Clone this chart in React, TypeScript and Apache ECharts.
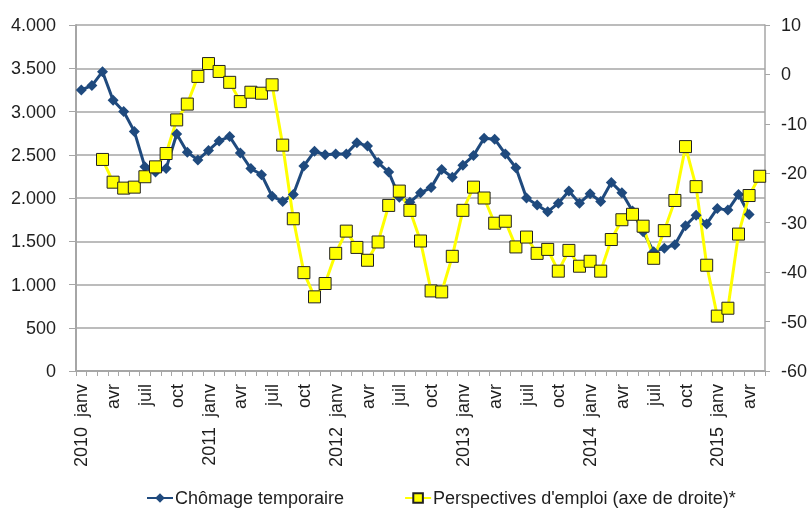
import React, { useEffect, useRef } from "react";
import * as echarts from "echarts";

const years = [2010, 2011, 2012, 2013, 2014, 2015];
const monthNames = ["janv", "févr", "mars", "avr", "mai", "juin", "juil", "août", "sept", "oct", "nov", "déc"];
const lastYearMonths = 5; // 2015: janv..mai

const categories: string[] = [];
years.forEach((y, yi) => {
  const n = yi === years.length - 1 ? lastYearMonths : 12;
  for (let m = 0; m < n; m++) categories.push(`${y} ${monthNames[m]}`);
});

const chomageTemporaire: (number | null)[] = [
  3250, 3300, 3460, 3130, 3000, 2770, 2360, 2300, 2340, 2740,
  2530, 2440, 2550, 2660, 2710, 2520, 2340, 2270, 2020, 1960,
  2040, 2370, 2540, 2500, 2510, 2510, 2640, 2600, 2410, 2300,
  2010, 1950, 2060, 2120, 2330, 2240, 2380, 2490, 2690, 2680,
  2510, 2350, 2000, 1920, 1840, 1940, 2080, 1940, 2050, 1960,
  2180, 2060, 1850, 1610, 1380, 1420, 1460, 1680, 1800, 1700,
  1880, 1860, 2040, 1810, null,
];

const perspectivesEmploi: (number | null)[] = [
  null, null,
  -17.2, -21.8, -23.0, -22.8, -20.7, -18.7, -16.0, -9.2, -6.0, -0.4,
  2.2, 0.6, -1.6, -5.5, -3.6, -3.8, -2.1, -14.3, -29.2, -40.1,
  -45.0, -42.3, -36.2, -31.7, -35.0, -37.6, -33.9, -26.5, -23.6, -27.5,
  -33.7, -43.8, -44.0, -36.8, -27.5, -22.8, -25.0, -30.1, -29.7, -34.9,
  -32.9, -36.2, -35.4, -39.8, -35.6, -38.8, -37.8, -39.8, -33.4, -29.4,
  -28.3, -30.7, -37.2, -31.6, -25.5, -14.6, -22.7, -38.6, -48.9, -47.3,
  -32.3, -24.5, -20.6,
];

const FONT = "'Liberation Sans', Arial, sans-serif";
const FS = 18;
const TEXT = "#1e1e1e";
const GRID = "#a6a6a6";

export default function App() {
  const ref = useRef<HTMLDivElement>(null);
  useEffect(() => {
    if (!ref.current) return;
    const chart = echarts.init(ref.current, undefined, { renderer: "svg" });
    chart.setOption({
      animation: false,
      textStyle: { fontFamily: FONT },
      grid: { left: 76, right: 46, top: 25, bottom: 141 },
      legend: {
        left: 146,
        top: 489,
        width: 660,
        padding: 0,
        itemWidth: 26,
        itemHeight: 12,
        itemGap: 60,
        textStyle: { fontFamily: FONT, fontSize: FS, color: TEXT, padding: [0, 0, 0, -3] },
        data: ["Chômage temporaire", "Perspectives d'emploi (axe de droite)*"],
      },
      xAxis: {
        type: "category",
        data: categories,
        boundaryGap: true,
        axisLine: { lineStyle: { color: GRID, width: 2 } },
        axisTick: { show: true, interval: 0, length: 5, lineStyle: { color: GRID, width: 1 } },
        axisLabel: {
          interval: 2,
          rotate: 90,
          margin: 13,
          color: TEXT,
          fontFamily: FONT,
          fontSize: FS,
          formatter: (value: string) => {
            const [y, m] = value.split(" ");
            return m === "janv" ? `{y|${y}}{m|${m}}` : `{m|${m}}`;
          },
          rich: {
            y: { fontFamily: FONT, fontSize: FS, color: TEXT, padding: [0, 10, 0, 0] },
            m: { fontFamily: FONT, fontSize: FS, color: TEXT },
          },
        },
      },
      yAxis: [
        {
          type: "value",
          min: 0,
          max: 4000,
          interval: 500,
          axisLine: { show: true, lineStyle: { color: GRID, width: 2 } },
          axisTick: { show: true, length: 7, lineStyle: { color: GRID } },
          splitLine: { show: true, lineStyle: { color: GRID, width: 1.5 } },
          axisLabel: {
            margin: 20,
            color: TEXT,
            fontFamily: FONT,
            fontSize: FS,
            formatter: (v: number) => String(v).replace(/\B(?=(\d{3})+(?!\d))/g, "."),
          },
        },
        {
          type: "value",
          min: -60,
          max: 10,
          interval: 10,
          position: "right",
          axisLine: { show: true, lineStyle: { color: GRID, width: 1.5 } },
          axisTick: { show: true, length: 5, lineStyle: { color: GRID } },
          splitLine: { show: false },
          axisLabel: { margin: 16, color: TEXT, fontFamily: FONT, fontSize: FS },
        },
      ],
      series: [
        {
          name: "Chômage temporaire",
          type: "line",
          yAxisIndex: 0,
          data: chomageTemporaire,
          showAllSymbol: true,
          symbol: "diamond",
          symbolSize: 11,
          color: "#1f4a7e",
          lineStyle: { width: 3, color: "#1f4a7e" },
          itemStyle: { color: "#1f4a7e" },
        },
        {
          name: "Perspectives d'emploi (axe de droite)*",
          type: "line",
          yAxisIndex: 1,
          data: perspectivesEmploi,
          showAllSymbol: true,
          symbol: "rect",
          symbolSize: 12,
          color: "#ffff00",
          lineStyle: { width: 3, color: "#ffff00" },
          itemStyle: { color: "#ffff00", borderColor: "#222", borderWidth: 1 },
        },
      ],
    });
    return () => chart.dispose();
  }, []);
  return <div ref={ref} style={{ position: "fixed", left: 0, top: 0, width: 811, height: 512 }} />;
}
